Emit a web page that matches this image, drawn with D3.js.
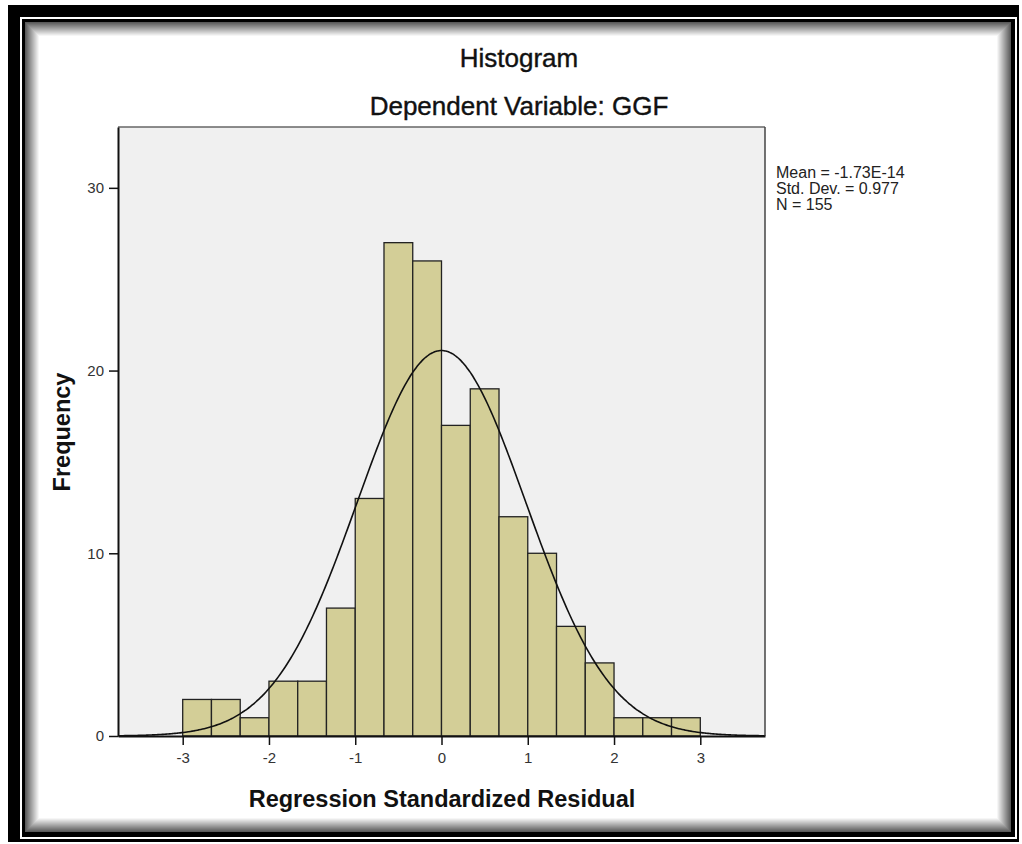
<!DOCTYPE html>
<html>
<head>
<meta charset="UTF-8">
<title>Histogram</title>
<script src="https://cdn.jsdelivr.net/npm/d3@7"></script>
<style>
  body { margin: 0; background: #fff; }
  text { font-family: "Liberation Sans", Arial, sans-serif; }
</style>
</head>
<body>
<svg id="chart" width="1022" height="844"></svg>
<script>
// bins of 1/3 unit from -3 to 3
const binStarts = [-3, -8/3, -7/3, -2, -5/3, -4/3, -1, -2/3, -1/3, 0, 1/3, 2/3, 1, 4/3, 5/3, 2, 7/3, 8/3];
const counts = [2, 2, 1, 3, 3, 7, 13, 27, 26, 17, 19, 12, 10, 6, 4, 1, 1, 1];
const binWidth = 1 / 3;
const xTicks = [-3, -2, -1, 0, 1, 2, 3];
const yTicks = [0, 10, 20, 30];
const statsLines = ["Mean = -1.73E-14", "Std. Dev. = 0.977", "N = 155"];
const mean = -1.73e-14, sd = 0.977, n = 155;

const svg = d3.select("#chart");

// picture frame
svg.append("rect").attr("x", 8).attr("y", 5).attr("width", 1011).attr("height", 837).attr("fill", "#000");
svg.append("rect").attr("x", 20).attr("y", 17).attr("width", 997).attr("height", 822).attr("fill", "#fff");
svg.append("rect").attr("x", 22).attr("y", 19).attr("width", 993).attr("height", 818).attr("fill", "#000");
svg.append("rect").attr("x", 25).attr("y", 22).attr("width", 986).attr("height", 810).attr("fill", "#fff");
// inner shadow
d3.range(14).forEach(i => {
  const g = Math.round(90 + i * 12);
  svg.append("rect")
    .attr("x", 25.5 + i).attr("y", 22.5 + i)
    .attr("width", 985 - 2 * i).attr("height", 809 - 2 * i)
    .attr("fill", "none")
    .attr("stroke", d3.rgb(g, g, g));
});

const plot = { left: 118, right: 765, top: 127, bottom: 736 };

const x = d3.scaleLinear().domain([-3.75, 3.75]).range([plot.left, plot.right]);
const y = d3.scaleLinear().domain([0, 33.33]).range([plot.bottom, plot.top]);

svg.append("rect")
  .attr("x", plot.left).attr("y", plot.top)
  .attr("width", plot.right - plot.left).attr("height", plot.bottom - plot.top)
  .attr("fill", "#f0f0f0");

// bars
svg.append("g").selectAll("rect")
  .data(counts)
  .join("rect")
  .attr("x", (d, i) => x(binStarts[i]))
  .attr("y", d => y(d))
  .attr("width", (d, i) => x(binStarts[i] + binWidth) - x(binStarts[i]))
  .attr("height", d => y(0) - y(d))
  .attr("fill", "#d3ce97")
  .attr("stroke", "#222")
  .attr("stroke-width", 1.3);

// normal curve from the stats shown
const curveX = d3.range(-3.75, 3.7501, 0.02);
const line = d3.line()
  .x(d => x(d))
  .y(d => y(n * binWidth * Math.exp(-0.5 * ((d - mean) / sd) ** 2) / (sd * Math.sqrt(2 * Math.PI))))
  .curve(d3.curveBasis);
svg.append("path")
  .datum(curveX)
  .attr("d", line)
  .attr("fill", "none")
  .attr("stroke", "#111")
  .attr("stroke-width", 1.6);

// plot frame
svg.append("line").attr("x1", plot.left).attr("x2", plot.right).attr("y1", plot.top).attr("y2", plot.top)
  .attr("stroke", "#666").attr("stroke-width", 1.5);
svg.append("line").attr("x1", plot.right).attr("x2", plot.right).attr("y1", plot.top).attr("y2", plot.bottom)
  .attr("stroke", "#444").attr("stroke-width", 1.5);

// axes (plain hyphen for minus, as in the original)
const fmt = d => String(d);
const xAxis = svg.append("g")
  .attr("transform", `translate(0,${plot.bottom})`)
  .call(d3.axisBottom(x).tickValues(xTicks).tickSize(9).tickSizeOuter(0).tickFormat(fmt));
const yAxis = svg.append("g")
  .attr("transform", `translate(${plot.left},0)`)
  .call(d3.axisLeft(y).tickValues(yTicks).tickSize(9).tickSizeOuter(0).tickFormat(fmt));

[xAxis, yAxis].forEach(a => {
  a.select(".domain").attr("stroke", "#111").attr("stroke-width", 2);
  a.selectAll(".tick line").attr("stroke", "#111").attr("stroke-width", 1.5);
  a.selectAll(".tick text").attr("fill", "#333").style("font-size", "15px")
    .style("font-family", "'Liberation Sans', Arial, sans-serif");
});
xAxis.selectAll(".tick text").attr("dy", "1.0em");
yAxis.selectAll(".tick text").attr("x", -14);

// titles
svg.append("text").attr("x", 519).attr("y", 67).attr("text-anchor", "middle")
  .style("font-size", "26px").attr("fill", "#111").attr("stroke", "#111").attr("stroke-width", 0.4)
  .text("Histogram");
svg.append("text").attr("x", 519).attr("y", 115).attr("text-anchor", "middle")
  .style("font-size", "26px").attr("fill", "#111").attr("stroke", "#111").attr("stroke-width", 0.4)
  .text("Dependent Variable: GGF");

svg.append("text").attr("x", 442).attr("y", 807).attr("text-anchor", "middle")
  .style("font-size", "23.5px").style("font-weight", "bold").attr("fill", "#111")
  .text("Regression Standardized Residual");
svg.append("text").attr("transform", "translate(70,432) rotate(-90)").attr("text-anchor", "middle")
  .style("font-size", "23.5px").style("font-weight", "bold").attr("fill", "#111")
  .text("Frequency");

// stats box text
svg.append("g").selectAll("text")
  .data(statsLines)
  .join("text")
  .attr("x", 776)
  .attr("y", (d, i) => 178 + i * 16)
  .style("font-size", "16px")
  .attr("fill", "#222")
  .text(d => d);
</script>
</body>
</html>
